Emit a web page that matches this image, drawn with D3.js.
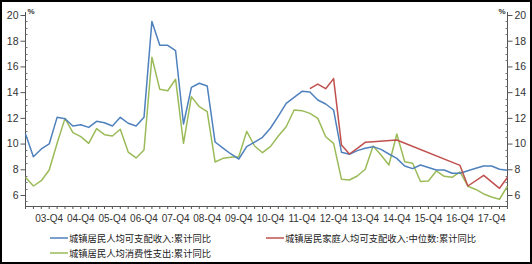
<!DOCTYPE html>
<html><head><meta charset="utf-8">
<script src="https://cdn.jsdelivr.net/npm/d3@7/dist/d3.min.js"></script>
<style>body{margin:0;background:#fff}svg{display:block}</style>
</head><body><svg id="c" width="532" height="264"></svg>
<script>
const categories = ["03-Q1","03-Q2","03-Q3","03-Q4","04-Q1","04-Q2","04-Q3","04-Q4","05-Q1","05-Q2","05-Q3","05-Q4","06-Q1","06-Q2","06-Q3","06-Q4","07-Q1","07-Q2","07-Q3","07-Q4","08-Q1","08-Q2","08-Q3","08-Q4","09-Q1","09-Q2","09-Q3","09-Q4","10-Q1","10-Q2","10-Q3","10-Q4","11-Q1","11-Q2","11-Q3","11-Q4","12-Q1","12-Q2","12-Q3","12-Q4","13-Q1","13-Q2","13-Q3","13-Q4","14-Q1","14-Q2","14-Q3","14-Q4","15-Q1","15-Q2","15-Q3","15-Q4","16-Q1","16-Q2","16-Q3","16-Q4","17-Q1","17-Q2","17-Q3","17-Q4","18-Q1","18-Q2"];
const tickLabels = ["03-Q4","04-Q4","05-Q4","06-Q4","07-Q4","08-Q4","09-Q4","10-Q4","11-Q4","12-Q4","13-Q4","14-Q4","15-Q4","16-Q4","17-Q4"];
const yTicks = [6,8,10,12,14,16,18,20];
const seriesNames = ["城镇居民人均可支配收入:累计同比","城镇居民家庭人均可支配收入:中位数:累计同比","城镇居民人均消费性支出:累计同比"];
const disposableIncome = [10.74,8.98,9.58,9.97,12.04,11.93,11.37,11.47,11.26,11.73,11.62,11.37,12.04,11.58,11.37,12.04,19.5,17.64,17.64,17.22,11.52,14.37,14.69,14.48,10.12,9.65,9.19,8.80,9.76,10.12,10.49,11.19,12.14,13.13,13.60,14.06,14.01,13.39,13.08,12.61,9.32,9.17,9.45,9.63,9.76,9.55,9.19,8.85,8.26,8.05,8.33,8.14,7.94,7.94,7.69,7.69,7.89,8.08,8.26,8.26,8.0,7.92];
const medianIncome = [null,null,null,null,null,null,null,null,null,null,null,null,null,null,null,null,null,null,null,null,null,null,null,null,null,null,null,null,null,null,null,null,null,null,null,null,14.27,14.63,14.27,15.05,9.89,9.19,9.63,10.1,10.15,null,null,10.28,null,null,null,null,null,null,null,8.3,6.70,null,7.53,null,6.52,7.36];
const consumption = [7.38,6.70,7.11,7.94,10.02,11.96,10.85,10.54,10.02,11.16,10.69,10.59,11.11,9.34,8.88,9.50,16.71,14.22,14.11,15.0,10.02,13.65,12.87,12.48,8.57,8.85,8.93,8.98,10.95,9.81,9.29,9.76,10.59,11.31,12.61,12.56,12.35,11.96,10.53,10.02,7.22,7.17,7.48,8.0,9.81,9.11,8.33,10.74,8.59,8.47,7.05,7.09,7.87,7.45,7.38,7.79,6.68,6.43,6.08,5.84,5.67,6.68];
const colors = ["#4f81bd","#c0504d","#9bbb59"];

const svg = d3.select("#c");
const FONT = "'Liberation Sans', Arial, sans-serif";
const CJK = "'Noto Sans CJK SC', sans-serif";
const left = 25.5, right = 507.5, axisTop = 12, axisBottom = 206;

svg.append("rect").attr("x",1).attr("y",1).attr("width",530).attr("height",262)
  .attr("fill","#fff").attr("stroke","#000").attr("stroke-width",2);

const x = d3.scalePoint().domain(categories).range([25.5, 507.4]);
const y = d3.scaleLinear().domain([6,20]).range([195,15]);

function styleAxis(g){
  g.select(".domain").remove();
  g.append("line").attr("y1",axisTop).attr("y2",axisBottom).attr("stroke","#555");
  g.selectAll(".tick line").attr("stroke","#555");
  g.selectAll(".tick text").attr("font-size",10.5).attr("font-family",FONT).attr("fill","#333");
}
styleAxis(svg.append("g").attr("transform",`translate(${left},0)`)
  .call(d3.axisLeft(y).tickValues(yTicks).tickSize(5).tickPadding(2)));
styleAxis(svg.append("g").attr("transform",`translate(${right},0)`)
  .call(d3.axisRight(y).tickValues(yTicks).tickSize(5).tickPadding(2)));

// minor ticks
const minor = d3.range(5.5,20.01,0.5).filter(v => v % 2 !== 0);
svg.append("g").selectAll("line").data(minor).join("line")
  .attr("x1",left).attr("x2",left+2).attr("y1",d=>Math.round(y(d))+0.5).attr("y2",d=>Math.round(y(d))+0.5).attr("stroke","#777");
svg.append("g").selectAll("line").data(minor).join("line")
  .attr("x1",right-2).attr("x2",right).attr("y1",d=>Math.round(y(d))+0.5).attr("y2",d=>Math.round(y(d))+0.5).attr("stroke","#777");
// % units
svg.append("text").attr("x",left+2).attr("y",14).text("%").attr("font-size",8).attr("font-weight","bold").attr("font-family",FONT).attr("fill","#333");
svg.append("text").attr("x",right-2).attr("y",14).attr("text-anchor","end").text("%").attr("font-size",8).attr("font-weight","bold").attr("font-family",FONT).attr("fill","#333");

// x axis
const gx = svg.append("g");
gx.append("line").attr("x1",left).attr("x2",right).attr("y1",axisBottom+0.5).attr("y2",axisBottom+0.5).attr("stroke","#555");
gx.selectAll("line.t").data(categories).join("line").attr("class","t")
  .attr("x1",d=>x(d)).attr("x2",d=>x(d)).attr("y1",axisBottom).attr("y2",axisBottom+3).attr("stroke","#555");
gx.selectAll("text").data(tickLabels).join("text")
  .attr("x",d=>x(d)).attr("y",axisBottom+16).attr("text-anchor","middle")
  .attr("font-size",10).attr("font-family",FONT).attr("fill","#333").text(d=>d);

// lines
function drawLine(vals, color){
  const pts = categories.map((c,i)=>[c,vals[i]]).filter(p=>p[1]!==null);
  svg.append("path").datum(pts)
    .attr("d", d3.line().x(p=>x(p[0])).y(p=>y(p[1])))
    .attr("fill","none").attr("stroke",color).attr("stroke-width",1.5).attr("stroke-linejoin","round");
}
drawLine(consumption, colors[2]);
drawLine(disposableIncome, colors[0]);
drawLine(medianIncome, colors[1]);

// legend
const legend = [
  {name:seriesNames[0], color:colors[0], lx:50, ly:238},
  {name:seriesNames[1], color:colors[1], lx:266, ly:238},
  {name:seriesNames[2], color:colors[2], lx:50, ly:253}
];
const lg = svg.append("g").selectAll("g").data(legend).join("g");
lg.append("line").attr("x1",d=>d.lx).attr("x2",d=>d.lx+18).attr("y1",d=>d.ly).attr("y2",d=>d.ly)
  .attr("stroke",d=>d.color).attr("stroke-width",1.5);
lg.append("text").attr("x",d=>d.lx+19).attr("y",d=>d.ly+3.5)
  .attr("font-size",9.3).attr("font-family",CJK).attr("fill","#222").text(d=>d.name);
</script></body></html>
